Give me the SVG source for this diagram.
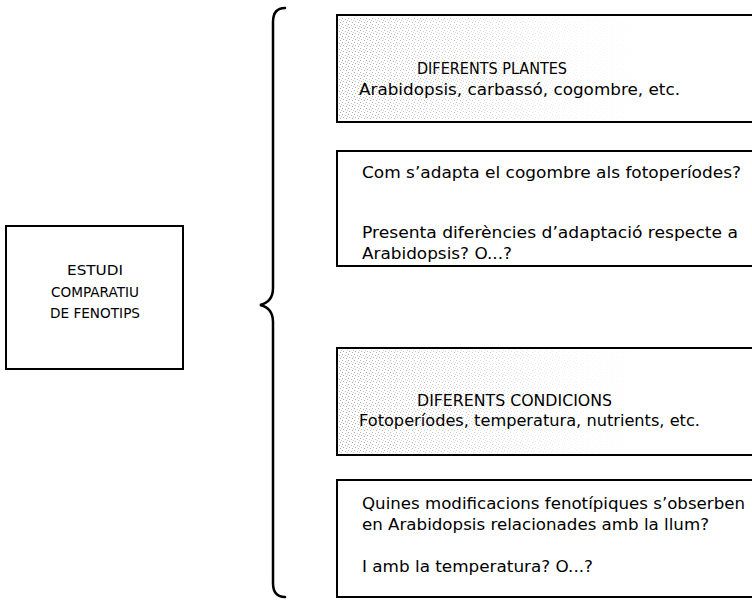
<svg xmlns="http://www.w3.org/2000/svg" width="752" height="603" viewBox="0 0 752 603">
  <style>
    .box { fill: #ffffff; stroke: #000000; stroke-width: 2; }
    .lbl { font-family: "DejaVu Sans", "Liberation Sans", sans-serif; font-size: 15.5px; fill: #000000; }
    .cap { font-family: "DejaVu Sans", "Liberation Sans", sans-serif; font-size: 14px; fill: #000000; text-anchor: middle; }
    .brace { fill: none; stroke: #000000; stroke-width: 2.5; stroke-linecap: round; }
  </style>
  <defs>
    <!-- sparse halftone stipple used as a light background tint -->
    <pattern id="stipple" width="6" height="6" patternUnits="userSpaceOnUse">
      <rect x="0" y="0" width="1" height="1" fill="#9a9a9a"/>
      <rect x="3" y="1" width="1" height="1" fill="#b4b4b4"/>
      <rect x="1" y="3" width="1" height="1" fill="#a6a6a6"/>
      <rect x="4" y="4" width="1" height="1" fill="#9a9a9a"/>
      <rect x="5" y="2" width="1" height="1" fill="#c0c0c0"/>
    </pattern>
    <linearGradient id="fade" x1="0" y1="0" x2="1" y2="0">
      <stop offset="0" stop-color="#fff" stop-opacity="0.85"/>
      <stop offset="0.3" stop-color="#fff" stop-opacity="0.55"/>
      <stop offset="0.7" stop-color="#fff" stop-opacity="0.15"/>
      <stop offset="1" stop-color="#fff" stop-opacity="0"/>
    </linearGradient>
    <mask id="fadeMask" maskContentUnits="objectBoundingBox">
      <rect x="0" y="0" width="1" height="1" fill="url(#fade)"/>
    </mask>
  </defs>

  <!-- root node -->
  <g id="node-estudi">
    <rect class="box" x="6" y="226" width="177" height="143" stroke-width="1.6"/>
    <text class="cap" x="95" y="275" textLength="56" lengthAdjust="spacingAndGlyphs">ESTUDI</text>
    <text class="cap" x="95" y="297" textLength="88" lengthAdjust="spacingAndGlyphs">COMPARATIU</text>
    <text class="cap" x="95" y="318" textLength="90" lengthAdjust="spacingAndGlyphs">DE FENOTIPS</text>
  </g>

  <!-- brace joining the root to the four boxes -->
  <g id="connectors">
    <path class="brace" d="M285,8 Q273,8 273,22 L273,288 Q273,302 260,305 Q273,308 273,322 L273,583 Q273,597 285,597"/>
  </g>

  <g id="node-plantes">
    <rect class="box" x="337" y="15" width="430" height="107"/>
    <rect x="339" y="17" width="320" height="103" fill="url(#stipple)" mask="url(#fadeMask)"/>
    <text class="lbl" x="417" y="74" textLength="150" lengthAdjust="spacingAndGlyphs">DIFERENTS PLANTES</text>
    <text class="lbl" x="359" y="95" textLength="321" lengthAdjust="spacingAndGlyphs">Arabidopsis, carbassó, cogombre, etc.</text>
  </g>

  <g id="node-cogombre">
    <rect class="box" x="337" y="151" width="430" height="115"/>
    <text class="lbl" x="362" y="178" textLength="379" lengthAdjust="spacingAndGlyphs">Com s’adapta el cogombre als fotoperíodes?</text>
    <text class="lbl" x="362" y="238" textLength="376" lengthAdjust="spacingAndGlyphs">Presenta diferències d’adaptació respecte a</text>
    <text class="lbl" x="362" y="259" textLength="150" lengthAdjust="spacingAndGlyphs">Arabidopsis? O...?</text>
  </g>

  <g id="node-condicions">
    <rect class="box" x="337" y="348" width="430" height="107"/>
    <rect x="339" y="350" width="320" height="103" fill="url(#stipple)" mask="url(#fadeMask)"/>
    <text class="lbl" x="417" y="406" textLength="195" lengthAdjust="spacingAndGlyphs">DIFERENTS CONDICIONS</text>
    <text class="lbl" x="359" y="426" textLength="341" lengthAdjust="spacingAndGlyphs">Fotoperíodes, temperatura, nutrients, etc.</text>
  </g>

  <g id="node-llum">
    <rect class="box" x="337" y="480" width="430" height="117"/>
    <text class="lbl" x="362" y="509" textLength="383" lengthAdjust="spacingAndGlyphs">Quines modificacions fenotípiques s’obserben</text>
    <text class="lbl" x="362" y="530" textLength="347" lengthAdjust="spacingAndGlyphs">en Arabidopsis relacionades amb la llum?</text>
    <text class="lbl" x="362" y="572" textLength="231" lengthAdjust="spacingAndGlyphs">I amb la temperatura? O...?</text>
  </g>
</svg>
